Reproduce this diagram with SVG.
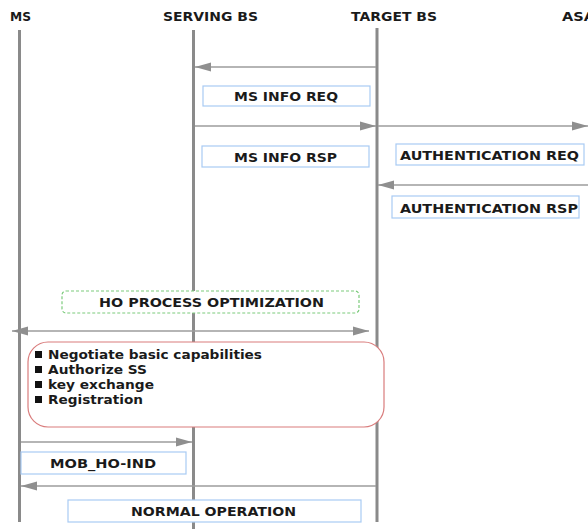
<svg xmlns="http://www.w3.org/2000/svg" width="588" height="529" viewBox="0 0 588 529">
  <style>
    text { font-family: "DejaVu Sans", Verdana, sans-serif; font-weight: bold; font-size: 12px; fill: #1a1a1a; }
    .head { font-size: 11.5px; }
    .life { stroke: #8a8a8a; stroke-width: 3; fill: none; }
    .msg { stroke: #9c9c9c; stroke-width: 1.6; fill: none; marker-end: url(#arrow); }
    .box { fill: #ffffff; stroke: #a9cbf3; stroke-width: 1.2; }
    .bullet { fill: #111111; }
  </style>
  <defs>
    <marker id="arrow" markerUnits="userSpaceOnUse" markerWidth="16" markerHeight="10" refX="16" refY="5" orient="auto-start-reverse">
      <path d="M0,0.5 L16,5 L0,9.5 z" fill="#8f8f8f"/>
    </marker>
  </defs>
  <rect width="588" height="529" fill="#ffffff"/>

  <!-- participants -->
  <g id="ms">
    <text class="head" x="10" y="21" textLength="21" lengthAdjust="spacingAndGlyphs">MS</text>
    <line class="life" x1="19.5" y1="30" x2="19.5" y2="522"/>
  </g>
  <g id="serving-bs">
    <text class="head" x="163" y="21" textLength="95" lengthAdjust="spacingAndGlyphs">SERVING BS</text>
    <line class="life" x1="193.5" y1="30" x2="193.5" y2="529"/>
  </g>
  <g id="target-bs">
    <text class="head" x="351" y="21" textLength="86" lengthAdjust="spacingAndGlyphs">TARGET BS</text>
    <line class="life" x1="377" y1="28" x2="377" y2="522"/>
  </g>
  <g id="asa">
    <text class="head" x="562" y="21" textLength="33" lengthAdjust="spacingAndGlyphs">ASA</text>
  </g>

  <!-- messages -->
  <g id="connectors">
    <line class="msg" x1="376" y1="67" x2="195" y2="67"/>
    <line class="msg" x1="195" y1="126" x2="376" y2="126"/>
    <line class="msg" x1="378" y1="126" x2="588" y2="126"/>
    <line class="msg" x1="588" y1="185" x2="378" y2="185"/>
    <line class="msg" x1="12" y1="331" x2="369" y2="331" marker-start="url(#arrow)"/>
    <line class="msg" x1="21" y1="442" x2="192" y2="442"/>
    <line class="msg" x1="376" y1="486" x2="21" y2="486"/>
  </g>

  <!-- labels -->
  <g id="ms-info-req">
    <rect class="box" x="203" y="86" width="167" height="20"/>
    <text x="234" y="101" textLength="104" lengthAdjust="spacingAndGlyphs">MS INFO REQ</text>
  </g>
  <g id="ms-info-rsp">
    <rect class="box" x="202" y="146" width="167" height="21"/>
    <text x="234" y="162" textLength="103" lengthAdjust="spacingAndGlyphs">MS INFO RSP</text>
  </g>
  <g id="auth-req">
    <rect class="box" x="396" y="144" width="188" height="21"/>
    <text x="400" y="160" textLength="179" lengthAdjust="spacingAndGlyphs">AUTHENTICATION REQ</text>
  </g>
  <g id="auth-rsp">
    <rect class="box" x="392" y="196" width="187" height="22"/>
    <text x="400" y="213" textLength="178" lengthAdjust="spacingAndGlyphs">AUTHENTICATION RSP</text>
  </g>
  <g id="ho-optimization">
    <rect x="62" y="291" width="297" height="22" rx="4" fill="#ffffff" stroke="#7ccb7c" stroke-width="1.2" stroke-dasharray="3,2"/>
    <text x="99" y="307" textLength="225" lengthAdjust="spacingAndGlyphs">HO PROCESS OPTIMIZATION</text>
  </g>
  <g id="network-entry">
    <rect x="28" y="342" width="356" height="85" rx="20" fill="#ffffff" stroke="#d97c7c" stroke-width="1.2"/>
    <rect class="bullet" x="35" y="351" width="7" height="7"/>
    <text x="48" y="359" textLength="214" lengthAdjust="spacingAndGlyphs">Negotiate basic capabilities</text>
    <rect class="bullet" x="35" y="366" width="7" height="7"/>
    <text x="48" y="374" textLength="99" lengthAdjust="spacingAndGlyphs">Authorize SS</text>
    <rect class="bullet" x="35" y="381" width="7" height="7"/>
    <text x="48" y="389" textLength="106" lengthAdjust="spacingAndGlyphs">key exchange</text>
    <rect class="bullet" x="35" y="396" width="7" height="7"/>
    <text x="48" y="404" textLength="95" lengthAdjust="spacingAndGlyphs">Registration</text>
  </g>
  <g id="mob-ho-ind">
    <rect class="box" x="21" y="452" width="165" height="22"/>
    <text x="50" y="468" textLength="106" lengthAdjust="spacingAndGlyphs">MOB_HO-IND</text>
  </g>
  <g id="normal-operation">
    <rect class="box" x="68" y="500" width="293" height="22"/>
    <text x="131" y="516" textLength="165" lengthAdjust="spacingAndGlyphs">NORMAL OPERATION</text>
  </g>
</svg>
